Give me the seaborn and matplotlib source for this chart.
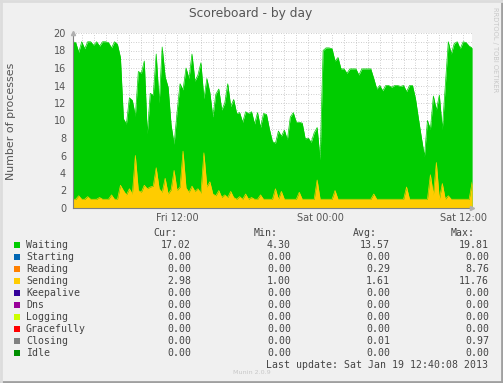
import numpy as np
import matplotlib
matplotlib.use("Agg")
import matplotlib.pyplot as plt
from matplotlib.lines import Line2D
import seaborn as sns

# samples every 15 minutes, hours counted from Fri 00:00
start_hour = 3.25
step_hours = 0.25

waiting = [
    19.0, 18.9, 17.8, 19.0, 18.2, 19.0, 19.0, 18.6, 19.0, 18.5,
    19.0, 19.0, 18.9, 18.3, 19.0, 18.7, 17.2, 10.2, 9.6, 12.6,
    12.3, 10.5, 15.6, 15.4, 16.8, 8.5, 13.1, 12.9, 17.6, 12.0,
    18.4, 15.0, 13.8, 9.5, 7.3, 11.0, 14.2, 13.5, 16.0, 14.8,
    17.6, 14.5, 15.2, 16.6, 12.5, 14.8, 13.2, 10.4, 13.0, 13.6,
    11.2, 12.0, 14.2, 11.6, 12.4, 10.8, 10.9, 9.8, 11.0, 10.8,
    11.0, 9.6, 10.9, 9.2, 10.8, 10.7, 9.0, 7.6, 7.4, 8.8,
    8.2, 8.9, 7.8, 10.4, 10.9, 9.8, 9.8, 9.7, 7.9, 8.0,
    7.5, 8.6, 9.2, 5.5, 18.0, 18.3, 18.3, 18.2, 16.8, 17.2,
    15.9, 15.9, 15.4, 15.9, 15.9, 15.9, 15.2, 15.9, 15.9, 15.9,
    15.9, 14.8, 13.6, 14.0, 13.4, 14.0, 14.0, 13.8, 14.0, 14.0,
    13.9, 14.0, 13.3, 14.0, 14.0, 12.5, 10.2, 8.0, 5.9, 10.0,
    9.0, 12.8, 11.2, 12.9, 9.0, 14.0, 19.0, 17.6, 18.8, 19.0,
    18.2, 19.0, 18.9, 18.5, 18.3,
]

sending = [
    1.0, 1.0, 1.4, 1.0, 1.0, 1.3, 1.0, 1.0, 1.0, 1.2,
    1.0, 1.0, 1.0, 1.5, 1.0, 1.0, 2.6, 2.0, 1.5, 2.2,
    1.6, 6.0, 2.0, 1.8, 2.6, 2.2, 2.4, 2.5, 4.6, 2.2,
    1.8, 3.4, 1.6, 2.1, 4.3, 2.0, 2.4, 6.5, 2.3, 1.8,
    2.5, 1.9, 2.2, 1.7, 6.3, 2.4, 3.0, 1.6, 1.4, 2.0,
    1.2, 1.5, 1.2, 1.9, 1.2, 1.0, 1.3, 1.0, 1.6, 1.0,
    1.2, 1.0, 1.0, 1.5, 1.0, 1.0, 1.0, 1.0, 2.2, 1.0,
    1.9, 1.0, 1.0, 1.0, 1.0, 1.0, 1.8, 1.0, 1.0, 1.0,
    1.0, 1.0, 3.2, 1.0, 1.0, 1.0, 1.0, 1.0, 2.0, 1.0,
    1.0, 1.0, 1.0, 1.0, 1.0, 1.0, 1.0, 1.0, 1.0, 1.0,
    1.0, 1.6, 1.0, 1.0, 1.0, 1.0, 1.0, 1.0, 1.0, 1.0,
    1.0, 1.0, 2.4, 1.0, 1.0, 1.0, 1.0, 1.0, 1.0, 1.0,
    3.8, 1.5, 5.2, 1.0, 2.8, 1.0, 1.4, 1.0, 1.0, 1.0,
    1.0, 1.0, 1.0, 1.0, 2.98,
]

x_ticks = [12, 24, 36]
x_labels = ["Fri 12:00", "Sat 00:00", "Sat 12:00"]

legend_names = ["Waiting", "Starting", "Reading", "Sending", "Keepalive",
                "Dns", "Logging", "Gracefully", "Closing", "Idle"]
legend_colors = ["#00CC00", "#0066B3", "#FF8000", "#FFCC00", "#330099",
                 "#990099", "#CCFF00", "#FF0000", "#808080", "#008F00"]
cur = ["17.02", "0.00", "0.00", "2.98", "0.00", "0.00", "0.00", "0.00", "0.00", "0.00"]
mins = ["4.30", "0.00", "0.00", "1.00", "0.00", "0.00", "0.00", "0.00", "0.00", "0.00"]
avgs = ["13.57", "0.00", "0.29", "1.61", "0.00", "0.00", "0.00", "0.00", "0.01", "0.00"]
maxs = ["19.81", "0.00", "8.76", "11.76", "0.00", "0.00", "0.00", "0.00", "0.97", "0.00"]

sns.set_style("white")
plt.rcParams["font.family"] = ["DejaVu Sans"]

W, H = 503, 383
fig = plt.figure(figsize=(W / 100, H / 100), dpi=100, facecolor="#F0F0F0")
ax = fig.add_axes([73 / W, (H - 208) / H, 399 / W, 175 / H])
ax.set_facecolor("white")

hours = start_hour + step_hours * np.arange(len(waiting))

ax.fill_between(hours, waiting, color="#00CC00", lw=0, zorder=2)
sns.lineplot(x=hours, y=waiting, color="#00CC00", lw=0.5, ax=ax, zorder=2)
ax.fill_between(hours, sending, color="#FFCC00", lw=0, zorder=3)
sns.lineplot(x=hours, y=sending, color="#FFCC00", lw=0.5, ax=ax, zorder=3)

ax.set_xlim(3.27, 36.74)
ax.set_ylim(0, 20)
ax.set_yticks(range(0, 21, 2))
ax.set_yticks(range(0, 21), minor=True)
ax.set_xticks(x_ticks)
ax.set_xticklabels(x_labels)
ax.set_xticks(range(4, 37), minor=True)
ax.grid(which="both", color="#BEBEBE", ls=(0, (1, 2)), lw=0.6, zorder=1)
ax.set_axisbelow(True)
for s in ["top", "right"]:
    ax.spines[s].set_visible(False)
for s in ["left", "bottom"]:
    ax.spines[s].set_color("#808080")
    ax.spines[s].set_linewidth(0.8)
    ax.spines[s].set_zorder(4)
ax.tick_params(which="major", length=3, width=0.6, color="#808080",
               labelsize=7, labelcolor="#555555", pad=2)
ax.tick_params(axis="x", which="major", pad=0.5)
ax.tick_params(which="minor", length=2, width=0.5, color="#A0A0A0")
ax.tick_params(axis="y", which="minor", length=0)
ax.set_xlabel("")
ax.set_ylabel("")
fig.text(11 / W, 1 - 121 / H, "Number of processes", rotation=90, ha="center",
         va="center", fontsize=7.9, color="#555555")

# axis arrows
ax.plot([0], [1.0], marker="^", ms=3, color="#B0B0B0", transform=ax.transAxes,
        clip_on=False, zorder=5)
ax.plot([1.0], [0], marker=">", ms=3, color="#B0B0B0", transform=ax.transAxes,
        clip_on=False, zorder=5)

fig.text(251 / W, 1 - 13 / H, "Scoreboard - by day", ha="center", va="center",
         fontsize=8.8, color="#555555")
fig.text(495 / W, 1 - 50 / H, "RRDTOOL / TOBI OETIKER", rotation=270, ha="center",
         va="center", fontsize=4.8, color="#C8C8C8")

mono = "DejaVu Sans Mono"
fs = 7.1
tc = "#444444"
for label, xr in zip(["Cur:", "Min:", "Avg:", "Max:"], [177.7, 277.7, 376.7, 475]):
    fig.text(xr / W, 1 - 233 / H, label, ha="right", va="center",
             family=mono, fontsize=fs, color=tc)

for i, name in enumerate(legend_names):
    y = 1 - (245 + 12 * i) / H
    fig.patches.append(plt.Rectangle((14 / W, y - 3 / H), 6 / W, 6 / H,
                                     transform=fig.transFigure,
                                     facecolor=legend_colors[i], edgecolor="none"))
    fig.text(26 / W, y, name, ha="left", va="center", family=mono, fontsize=fs, color=tc)
    for vals, xr in zip([cur, mins, avgs, maxs], [191, 291, 390, 489]):
        fig.text(xr / W, y, vals[i], ha="right", va="center",
                 family=mono, fontsize=fs, color=tc)

fig.text(488 / W, 1 - 365 / H, "Last update: Sat Jan 19 12:40:08 2013",
         ha="right", va="center", family=mono, fontsize=fs, color=tc)
fig.text(252 / W, 1 - 373 / H, "Munin 2.0.9", ha="center", va="center",
         fontsize=4.6, color="#C8C8C8")

# image border
fig.lines.append(Line2D([0, 1], [0.002, 0.002], transform=fig.transFigure,
                        color="#A0A0A0", lw=2))
fig.lines.append(Line2D([0.998, 0.998], [0, 1], transform=fig.transFigure,
                        color="#A0A0A0", lw=2))
fig.lines.append(Line2D([0, 1], [0.998, 0.998], transform=fig.transFigure,
                        color="#DCDCDC", lw=2))
fig.lines.append(Line2D([0.002, 0.002], [0, 1], transform=fig.transFigure,
                        color="#DCDCDC", lw=2))

fig.savefig("out.png", dpi=100, facecolor=fig.get_facecolor())
